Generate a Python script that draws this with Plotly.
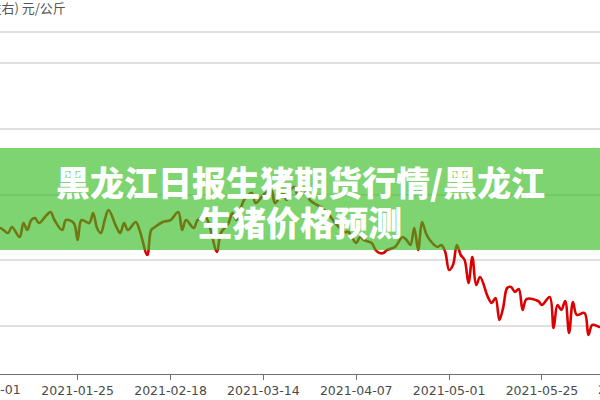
import pandas as pd
import plotly.graph_objects as go

# ---- data ----
dates = [
    "2021-01-04", "2021-01-05", "2021-01-07", "2021-01-08", "2021-01-10", "2021-01-11",
    "2021-01-12", "2021-01-13", "2021-01-14", "2021-01-15", "2021-01-17", "2021-01-18",
    "2021-01-19", "2021-01-21", "2021-01-22", "2021-01-24", "2021-01-25", "2021-01-26",
    "2021-01-28", "2021-01-29", "2021-01-30", "2021-01-31", "2021-02-01", "2021-02-02",
    "2021-02-04", "2021-02-05", "2021-02-06", "2021-02-07", "2021-02-09", "2021-02-10",
    "2021-02-12", "2021-02-13", "2021-02-14", "2021-02-16", "2021-02-18", "2021-02-20",
    "2021-02-21", "2021-02-22", "2021-02-24", "2021-02-25", "2021-02-27", "2021-02-28",
    "2021-03-02", "2021-03-03", "2021-03-05", "2021-03-06", "2021-03-07", "2021-03-09",
    "2021-03-11", "2021-03-12", "2021-03-14", "2021-03-16", "2021-03-17", "2021-03-19",
    "2021-03-20", "2021-03-21", "2021-03-22", "2021-03-23", "2021-03-24", "2021-03-26",
    "2021-03-27", "2021-03-29", "2021-03-31", "2021-04-02", "2021-04-04", "2021-04-05",
    "2021-04-06", "2021-04-07", "2021-04-08", "2021-04-09", "2021-04-11", "2021-04-12",
    "2021-04-13", "2021-04-14", "2021-04-15", "2021-04-17", "2021-04-19", "2021-04-20",
    "2021-04-21", "2021-04-22", "2021-04-23", "2021-04-24", "2021-04-25", "2021-04-26",
    "2021-04-28", "2021-04-29", "2021-04-30", "2021-05-01", "2021-05-02", "2021-05-03",
    "2021-05-04", "2021-05-05", "2021-05-06", "2021-05-07", "2021-05-08", "2021-05-09",
    "2021-05-11", "2021-05-12", "2021-05-13", "2021-05-14", "2021-05-15", "2021-05-16",
    "2021-05-17", "2021-05-18", "2021-05-19", "2021-05-20", "2021-05-21", "2021-05-24",
    "2021-05-25", "2021-05-27", "2021-05-28", "2021-05-29", "2021-05-30", "2021-05-31",
    "2021-06-01", "2021-06-02", "2021-06-03", "2021-06-05", "2021-06-06", "2021-06-07",
    "2021-06-09", "2021-06-10",
]
prices = [
    27.30, 27.45, 27.07, 27.53, 26.77, 27.83,
    27.30, 28.06, 28.21, 27.83, 28.44, 28.67,
    28.06, 27.30, 28.06, 27.83, 26.54, 28.06,
    27.83, 28.59, 27.45, 27.07, 28.06, 28.82,
    27.53, 27.07, 27.83, 27.30, 27.91, 27.30,
    25.40, 27.30, 27.53, 27.91, 28.06, 28.67,
    27.30, 28.06, 27.45, 28.06, 28.29, 27.68,
    25.63, 27.07, 27.83, 28.59, 28.06, 29.58,
    30.11, 29.35, 29.96, 30.34, 29.35, 30.11,
    29.58, 30.34, 30.57, 29.81, 30.49, 29.58,
    29.35, 29.00, 28.44, 27.68, 27.15, 27.15,
    26.69, 26.31, 26.77, 26.54, 26.31, 25.78,
    25.55, 25.55, 25.78, 26.01, 26.77, 26.54,
    26.16, 27.45, 25.78, 27.91, 27.07, 26.54,
    26.01, 26.16, 25.63, 24.26, 24.64, 26.16,
    25.40, 25.02, 23.27, 25.25, 23.12, 23.73,
    22.21, 21.75, 22.13, 20.46, 21.44, 22.89,
    22.97, 22.59, 22.81, 21.22, 22.05, 21.90,
    21.60, 22.21, 19.85, 21.60, 21.22, 21.90,
    19.47, 21.83, 20.84, 20.99, 19.32, 20.08,
    19.92, 20.00,
]
tick_dates = ["2021-01-01", "2021-01-25", "2021-02-18", "2021-03-14",
              "2021-04-07", "2021-05-01", "2021-05-25", "2021-06-18"]
y_grid = [20, 25, 30, 35, 40, 42.36]

title_line1 = "黑龙江日报生猪期货行情/黑龙江"
title_line2 = "生猪价格预测"
unit_label = "(左右) 元/公斤"

x_range = ["2021-01-04 22:20", "2021-06-08 23:50"]

# ---- figure ----
fig = go.Figure()
fig.add_trace(go.Scatter(
    x=dates, y=prices, mode="lines",
    line=dict(color="#dc0000", width=2.6, shape="spline", smoothing=1.0),
    hoverinfo="skip", showlegend=False,
))

H = 400
plot_bottom_px = 374

def py(px):
    return (plot_bottom_px - px) / plot_bottom_px

# semi-transparent banner over the chart
fig.add_shape(type="rect", xref="paper", yref="paper",
              x0=0, x1=1, y0=py(250), y1=py(148),
              fillcolor="rgb(52,188,32)", opacity=0.64,
              line=dict(width=0), layer="above")

title_font = dict(family="Noto Sans CJK SC", size=34, color="white", weight=900)
fig.add_annotation(text=title_line1, xref="paper", yref="paper",
                   x=0.5, y=py(182), xanchor="center", yanchor="middle",
                   showarrow=False, font=title_font)
fig.add_annotation(text=title_line2, xref="paper", yref="paper",
                   x=0.5, y=py(222), xanchor="center", yanchor="middle",
                   showarrow=False, font=title_font)

fig.add_annotation(text=unit_label, xref="paper", yref="paper",
                   x=68 / 600, y=py(8), xanchor="right", yanchor="middle",
                   showarrow=False,
                   font=dict(family="Noto Sans CJK SC", size=13, color="#555555"))

tick_font = dict(family="DejaVu Sans", size=12.5, color="#4a4a4a")

# tick labels whose tick lies just outside the visible range (partly cut by the edge):
# place them in paper coordinates derived from the axis range
r0 = pd.Timestamp(x_range[0])
r1 = pd.Timestamp(x_range[1])
for d in tick_dates:
    t = pd.Timestamp(d)
    if t < r0 or t > r1:
        frac = (t - r0) / (r1 - r0)
        fig.add_annotation(text=d, xref="paper", yref="paper", x=frac, y=py(389),
                           xanchor="center", yanchor="middle", showarrow=False,
                           font=tick_font)

fig.update_layout(
    width=600, height=H,
    margin=dict(l=0, r=0, t=0, b=H - plot_bottom_px),
    paper_bgcolor="white", plot_bgcolor="white",
    xaxis=dict(
        type="date",
        range=x_range,
        tickvals=tick_dates, ticktext=tick_dates,
        showgrid=False, showline=True, linecolor="#6e7079", linewidth=1,
        ticks="outside", ticklen=5, tickcolor="#6e7079",
        tickfont=tick_font,
        zeroline=False,
    ),
    yaxis=dict(
        range=[16.35, 44.79],
        tickvals=y_grid, showticklabels=False,
        showgrid=True, gridcolor="#e0e0e0", gridwidth=1.5,
        zeroline=False, showline=False,
    ),
)

fig.write_html(
    "out.html",
    config={"displayModeBar": False},
    post_script="document.body.style.margin='0';document.body.style.padding='0';"
                "document.body.style.overflow='hidden';",
)
